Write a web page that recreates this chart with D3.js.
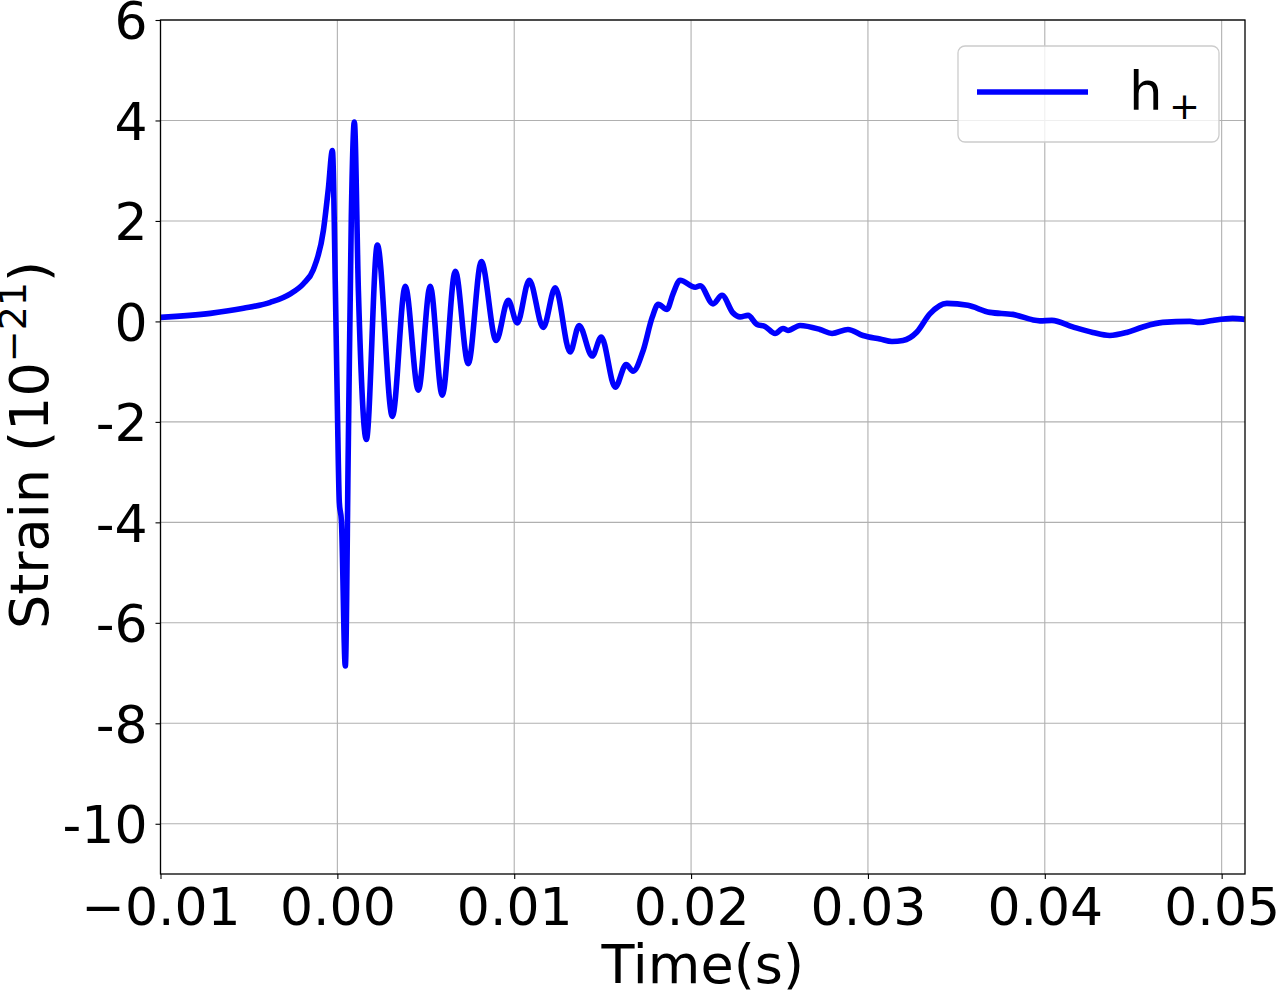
<!DOCTYPE html>
<html>
<head>
<meta charset="utf-8">
<script src="https://cdn.jsdelivr.net/npm/d3@7"></script>
<style>
  body { margin: 0; background: #fff; }
  text { font-family: "DejaVu Sans", sans-serif; fill: #000; }
</style>
</head>
<body>
<script>
// time (s) and strain (1e-21)
var times = [
  -0.01000, -0.00718, -0.00531, -0.00379, -0.00266, -0.00192, -0.00136, -0.00079, -0.00051, -0.00028,
  -0.00011, 0.00000, 0.00011, 0.00023, 0.00045, 0.00062, 0.00079, 0.00096, 0.00119, 0.00164,
  0.00226, 0.00311, 0.00384, 0.00458, 0.00525, 0.00593, 0.00667, 0.00740, 0.00814, 0.00898,
  0.00966, 0.01017, 0.01085, 0.01164, 0.01232, 0.01316, 0.01367, 0.01441, 0.01492, 0.01571,
  0.01633, 0.01672, 0.01729, 0.01780, 0.01814, 0.01864, 0.01898, 0.01938, 0.02023, 0.02051,
  0.02124, 0.02175, 0.02237, 0.02277, 0.02322, 0.02373, 0.02418, 0.02475, 0.02520, 0.02548,
  0.02616, 0.02729, 0.02797, 0.02887, 0.02972, 0.03068, 0.03136, 0.03198, 0.03277, 0.03350,
  0.03446, 0.03565, 0.03689, 0.03819, 0.03972, 0.04040, 0.04158, 0.04271, 0.04367, 0.04463,
  0.04554, 0.04667, 0.04819, 0.04876, 0.04949, 0.05062, 0.05130
];
var hplus = [
  0.08, 0.16, 0.26, 0.38, 0.55, 0.75, 1.03, 1.81, 2.64, 3.40,
  0.60, -1.69, -3.60, -3.97, -6.86, -2.45, 2.10, 3.97, 0.60, -2.35,
  1.52, -1.89, 0.70, -1.37, 0.70, -1.47, 1.00, -0.84, 1.19, -0.38,
  0.42, -0.03, 0.82, -0.12, 0.67, -0.61, -0.08, -0.69, -0.31, -1.31,
  -0.86, -0.99, -0.58, 0.08, 0.34, 0.24, 0.55, 0.82, 0.68, 0.71,
  0.35, 0.52, 0.17, 0.09, 0.12, -0.06, -0.10, -0.24, -0.14, -0.18,
  -0.08, -0.16, -0.24, -0.16, -0.28, -0.35, -0.40, -0.38, -0.21, 0.15,
  0.36, 0.32, 0.18, 0.14, 0.01, 0.02, -0.11, -0.22, -0.28, -0.22,
  -0.11, -0.02, 0.00, -0.02, 0.02, 0.06, 0.04
];
var xTicks = [-0.01, 0.00, 0.01, 0.02, 0.03, 0.04, 0.05];
var yTicks = [-10, -8, -6, -4, -2, 0, 2, 4, 6];

var margin = { top: 20, right: 34, bottom: 120, left: 160.5 },
    width = 1279 - margin.left - margin.right,
    height = 994 - margin.top - margin.bottom;

var data = times.map(function (t, i) { return { t: t, h: hplus[i] }; });

var x = d3.scaleLinear()
    .domain([-0.01, 0.05132])
    .range([0, width]);

var y = d3.scaleLinear()
    .domain([-11, 6])
    .range([height, 0]);

var svg = d3.select("body").append("svg")
    .attr("width", 1279)
    .attr("height", 994)
    .append("g")
    .attr("transform", "translate(" + margin.left + "," + margin.top + ")");

svg.append("clipPath").attr("id", "clip")
    .append("rect").attr("width", width).attr("height", height);

// grid
svg.append("g").selectAll("line").data(xTicks).enter().append("line")
    .attr("x1", x).attr("x2", x).attr("y1", 0).attr("y2", height)
    .attr("stroke", "#b0b0b0").attr("stroke-width", 1.1);
svg.append("g").selectAll("line").data(yTicks).enter().append("line")
    .attr("y1", y).attr("y2", y).attr("x1", 0).attr("x2", width)
    .attr("stroke", "#b0b0b0").attr("stroke-width", 1.1);

var line = d3.line()
    .x(function (d) { return x(d.t); })
    .y(function (d) { return y(d.h); })
    .curve(d3.curveMonotoneX);

svg.append("path")
    .datum(data)
    .attr("clip-path", "url(#clip)")
    .attr("fill", "none")
    .attr("stroke", "#0000ff")
    .attr("stroke-width", 5.6)
    .attr("stroke-linejoin", "round")
    .attr("d", line);

// axes
var xAxis = d3.axisBottom(x)
    .tickValues(xTicks)
    .tickSize(5)
    .tickPadding(8)
    .tickFormat(function (d) { return d3.format(".2f")(d).replace("-", "\u2212"); });

var yAxis = d3.axisLeft(y)
    .tickValues(yTicks)
    .tickSize(5)
    .tickPadding(8)
    .tickFormat(function (d) { return String(d); });

var gx = svg.append("g")
    .attr("transform", "translate(0," + height + ")")
    .call(xAxis);
var gy = svg.append("g").call(yAxis);

[gx, gy].forEach(function (g) {
    g.select(".domain").remove();
    g.selectAll("line").attr("stroke", "#000").attr("stroke-width", 1.1);
    g.selectAll("text").style("font-size", "52px").attr("fill", "#000");
});
gy.selectAll("text").attr("dy", "0.36em");
gx.selectAll("text").attr("dy", "0.73em");

// frame
svg.append("rect")
    .attr("width", width).attr("height", height)
    .attr("fill", "none").attr("stroke", "#000").attr("stroke-width", 1.3);

// axis labels
svg.append("text")
    .attr("x", width / 2).attr("y", 963)
    .attr("text-anchor", "middle")
    .style("font-size", "54px")
    .text("Time(s)");

var ylab = svg.append("text")
    .attr("transform", "translate(" + (48 - margin.left) + "," + (height / 2 - 2) + ") rotate(-90)")
    .attr("text-anchor", "middle")
    .style("font-size", "54px");
ylab.append("tspan").text("Strain (10");
ylab.append("tspan").attr("dy", -22).style("font-size", "38px").text("\u221221");
ylab.append("tspan").attr("dy", 22).text(")");

// legend
var lg = svg.append("g").attr("transform", "translate(" + (958 - margin.left) + "," + (46 - margin.top) + ")");
lg.append("rect")
    .attr("width", 261).attr("height", 96)
    .attr("rx", 7).attr("ry", 7)
    .attr("fill", "#fff").attr("fill-opacity", 0.8)
    .attr("stroke", "#cccccc").attr("stroke-width", 1.3);
lg.append("line")
    .attr("x1", 19).attr("x2", 130).attr("y1", 46).attr("y2", 46)
    .attr("stroke", "#0000ff").attr("stroke-width", 5.6);
lg.append("text")
    .attr("x", 171).attr("y", 64)
    .style("font-size", "53px")
    .text("h");
lg.append("text")
    .attr("x", 211).attr("y", 73)
    .style("font-size", "37px")
    .text("+");
</script>
</body>
</html>
